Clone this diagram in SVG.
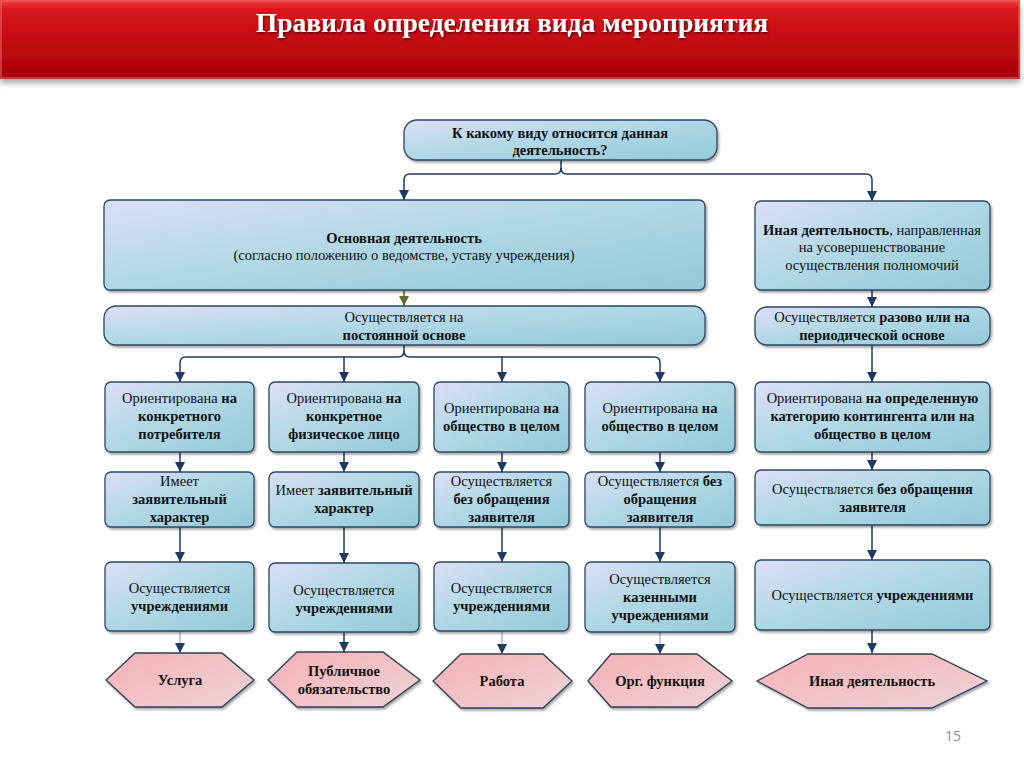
<svg xmlns="http://www.w3.org/2000/svg" width="1024" height="768" viewBox="0 0 1024 768">
<defs>
<linearGradient id="gTitle" x1="0" y1="0" x2="0" y2="1">
<stop offset="0" stop-color="#ef3a3e"/>
<stop offset="0.12" stop-color="#d9161c"/>
<stop offset="0.6" stop-color="#bf0a0f"/>
<stop offset="1" stop-color="#a80006"/>
</linearGradient>
<linearGradient id="gBox" x1="0" y1="0" x2="1" y2="1">
<stop offset="0" stop-color="#dcdff6"/>
<stop offset="0.45" stop-color="#b2d8e6"/>
<stop offset="1" stop-color="#93c9d8"/>
</linearGradient>
<linearGradient id="gHex" x1="0" y1="0" x2="1" y2="1">
<stop offset="0" stop-color="#f6b1b5"/>
<stop offset="1" stop-color="#eed3d7"/>
</linearGradient>
<filter id="sh" x="-10%" y="-10%" width="120%" height="130%">
<feDropShadow dx="1.5" dy="2" stdDeviation="1.2" flood-color="#000" flood-opacity="0.35"/>
</filter>
<filter id="tsh" x="-10%" y="-10%" width="120%" height="130%">
<feDropShadow dx="1" dy="1.5" stdDeviation="1" flood-color="#000" flood-opacity="0.6"/>
</filter>
<filter id="barsh" x="-5%" y="-10%" width="110%" height="130%">
<feDropShadow dx="0" dy="4" stdDeviation="3" flood-color="#000" flood-opacity="0.35"/>
</filter>
<marker id="ar" viewBox="0 0 10 10" refX="10" refY="5" markerWidth="10" markerHeight="10" markerUnits="userSpaceOnUse" orient="auto">
<path d="M0,0 L10,5 L0,10 z" fill="#1f3a60"/>
</marker>
<marker id="arg" viewBox="0 0 10 10" refX="10" refY="5" markerWidth="10" markerHeight="10" markerUnits="userSpaceOnUse" orient="auto">
<path d="M0,0 L10,5 L0,10 z" fill="#5b6b2e"/>
</marker>
<style>
.box{fill:url(#gBox);stroke:#2d4764;stroke-width:1.3;filter:url(#sh)}
.hex{fill:url(#gHex);stroke:#2e3e55;stroke-width:1.3;filter:url(#sh)}
.t{font-family:"Liberation Serif","Times New Roman",serif;font-size:14.5px;fill:#111;text-anchor:middle}
.b{font-weight:bold}
.c{fill:none;stroke:#1f3a60;stroke-width:1.5;marker-end:url(#ar)}
.cl{fill:none;stroke:#8797ab;stroke-width:1;marker-end:url(#ar)}
</style>
</defs>

<g id="title">
<rect x="0" y="0" width="1020" height="79" fill="url(#gTitle)" filter="url(#barsh)"/>
<rect x="1" y="1" width="1018" height="77" fill="none" stroke="#f26a6c" stroke-opacity="0.5" stroke-width="2"/>
<text x="512" y="32" font-family="Liberation Serif, Times New Roman, serif" font-size="27.5" font-weight="bold" fill="#fff" text-anchor="middle" filter="url(#tsh)">Правила определения вида мероприятия</text>
</g>

<g id="connectors">
<path class="c" d="M561,160 V168 Q561,174 555,174 H410 Q404,174 404,180 V200"/>
<path class="c" d="M561,168 Q561,174 567,174 H866 Q872,174 872,180 V201"/>
<path d="M404,290 V306" fill="none" stroke="#5b6b2e" stroke-width="1.5" marker-end="url(#arg)"/>
<path class="c" d="M872,290 V307"/>
<path class="c" d="M404,345 V351 Q404,357 398,357 H186 Q180,357 180,363 V382"/>
<path class="c" d="M344,357 Q344,357 344,363 V382"/>
<path class="c" d="M404,351 Q404,357 410,357 H654 Q660,357 660,363 V382"/>
<path class="c" d="M502,357 V382"/>
<path class="c" d="M872,345 V382"/>
<path class="c" d="M180,452 V472"/>
<path class="c" d="M344,452 V472"/>
<path class="c" d="M502,452 V472"/>
<path class="c" d="M660,452 V472"/>
<path class="c" d="M872,452 V470"/>
<path class="c" d="M180,527 V562"/>
<path class="c" d="M344,527 V563"/>
<path class="c" d="M502,527 V562"/>
<path class="c" d="M660,527 V562"/>
<path class="c" d="M872,525 V560"/>
<path class="cl" d="M180,631 V653"/>
<path class="c" d="M344,632 V652"/>
<path class="cl" d="M502,631 V654"/>
<path class="cl" d="M660,632 V654"/>
<path class="c" d="M872,630 V653"/>
</g>

<g id="n-top">
<rect class="box" x="404" y="120" width="313" height="40" rx="13"/>
<text class="t b" x="560" y="138">К какому виду относится данная</text>
<text class="t b" x="560" y="155">деятельность?</text>
</g>

<g id="n-main">
<rect class="box" x="104" y="200" width="601" height="90" rx="6"/>
<text class="t" x="404" y="243"><tspan class="b">Основная деятельность</tspan></text>
<text class="t" x="404" y="260">(согласно положению о ведомстве, уставу учреждения)</text>
</g>

<g id="n-other">
<rect class="box" x="755" y="201" width="235" height="89" rx="6"/>
<text class="t" x="872" y="235"><tspan class="b">Иная деятельность</tspan>, направленная</text>
<text class="t" x="872" y="252">на усовершенствование</text>
<text class="t" x="872" y="270">осуществления полномочий</text>
</g>

<g id="n-perm">
<rect class="box" x="104" y="306" width="601" height="39" rx="12"/>
<text class="t" x="404" y="322">Осуществляется на</text>
<text class="t b" x="404" y="340">постоянной основе</text>
</g>

<g id="n-periodic">
<rect class="box" x="755" y="307" width="235" height="38" rx="12"/>
<text class="t" x="872" y="322">Осуществляется <tspan class="b">разово или на</tspan></text>
<text class="t b" x="872" y="340">периодической основе</text>
</g>

<g id="n-r1c1">
<rect class="box" x="105" y="382" width="149" height="70" rx="6"/>
<text class="t" x="179.5" y="403">Ориентирована <tspan class="b">на</tspan></text>
<text class="t b" x="179.5" y="421">конкретного</text>
<text class="t b" x="179.5" y="439">потребителя</text>
</g>
<g id="n-r1c2">
<rect class="box" x="269" y="382" width="150" height="70" rx="6"/>
<text class="t" x="344" y="403">Ориентирована <tspan class="b">на</tspan></text>
<text class="t b" x="344" y="421">конкретное</text>
<text class="t b" x="344" y="439">физическое лицо</text>
</g>
<g id="n-r1c3">
<rect class="box" x="434" y="382" width="135" height="70" rx="6"/>
<text class="t" x="501.5" y="413">Ориентирована <tspan class="b">на</tspan></text>
<text class="t b" x="501.5" y="431">общество в целом</text>
</g>
<g id="n-r1c4">
<rect class="box" x="585" y="382" width="150" height="70" rx="6"/>
<text class="t" x="660" y="413">Ориентирована <tspan class="b">на</tspan></text>
<text class="t b" x="660" y="431">общество в целом</text>
</g>
<g id="n-r1c5">
<rect class="box" x="755" y="382" width="235" height="70" rx="6"/>
<text class="t" x="872.5" y="403">Ориентирована <tspan class="b">на определенную</tspan></text>
<text class="t b" x="872.5" y="421">категорию контингента или на</text>
<text class="t b" x="872.5" y="439">общество в целом</text>
</g>

<g id="n-r2c1">
<rect class="box" x="105" y="472" width="149" height="55" rx="6"/>
<text class="t" x="179.5" y="486">Имеет</text>
<text class="t b" x="179.5" y="504">заявительный</text>
<text class="t b" x="179.5" y="522">характер</text>
</g>
<g id="n-r2c2">
<rect class="box" x="269" y="472" width="150" height="55" rx="6"/>
<text class="t" x="344" y="495">Имеет <tspan class="b">заявительный</tspan></text>
<text class="t b" x="344" y="513">характер</text>
</g>
<g id="n-r2c3">
<rect class="box" x="434" y="472" width="135" height="55" rx="6"/>
<text class="t" x="501.5" y="486">Осуществляется</text>
<text class="t b" x="501.5" y="504">без обращения</text>
<text class="t b" x="501.5" y="522">заявителя</text>
</g>
<g id="n-r2c4">
<rect class="box" x="585" y="472" width="150" height="55" rx="6"/>
<text class="t" x="660" y="486">Осуществляется <tspan class="b">без</tspan></text>
<text class="t b" x="660" y="504">обращения</text>
<text class="t b" x="660" y="522">заявителя</text>
</g>
<g id="n-r2c5">
<rect class="box" x="755" y="470" width="235" height="55" rx="6"/>
<text class="t" x="872.5" y="494">Осуществляется <tspan class="b">без обращения</tspan></text>
<text class="t b" x="872.5" y="512">заявителя</text>
</g>

<g id="n-r3c1">
<rect class="box" x="105" y="562" width="149" height="69" rx="6"/>
<text class="t" x="179.5" y="593">Осуществляется</text>
<text class="t b" x="179.5" y="611">учреждениями</text>
</g>
<g id="n-r3c2">
<rect class="box" x="269" y="563" width="150" height="69" rx="6"/>
<text class="t" x="344" y="595">Осуществляется</text>
<text class="t b" x="344" y="613">учреждениями</text>
</g>
<g id="n-r3c3">
<rect class="box" x="434" y="562" width="135" height="69" rx="6"/>
<text class="t" x="501.5" y="593">Осуществляется</text>
<text class="t b" x="501.5" y="611">учреждениями</text>
</g>
<g id="n-r3c4">
<rect class="box" x="585" y="562" width="150" height="70" rx="6"/>
<text class="t" x="660" y="584">Осуществляется</text>
<text class="t b" x="660" y="602">казенными</text>
<text class="t b" x="660" y="620">учреждениями</text>
</g>
<g id="n-r3c5">
<rect class="box" x="755" y="560" width="235" height="70" rx="6"/>
<text class="t" x="872.5" y="600">Осуществляется <tspan class="b">учреждениями</tspan></text>
</g>

<g id="h-service">
<polygon class="hex" points="106,680 135,653 222,653 254,680 222,707 135,707"/>
<text class="t b" x="180" y="685">Услуга</text>
</g>
<g id="h-public">
<polygon class="hex" points="268,680 297,652 383,652 420,680 383,707 297,707"/>
<text class="t b" x="344" y="676">Публичное</text>
<text class="t b" x="344" y="694">обязательство</text>
</g>
<g id="h-work">
<polygon class="hex" points="433,681 461,654 543,654 572,681 543,708 461,708"/>
<text class="t b" x="502" y="686">Работа</text>
</g>
<g id="h-org">
<polygon class="hex" points="588,681 611,654 697,654 732,681 697,707 611,707"/>
<text class="t b" x="660" y="686">Орг. функция</text>
</g>
<g id="h-other">
<polygon class="hex" points="757,681 808,654 932,654 987,681 932,708 808,708"/>
<text class="t b" x="872" y="686">Иная деятельность</text>
</g>

<text x="953" y="741" font-family="Open Sans, Liberation Sans, sans-serif" font-size="14" fill="#8c8c8c" text-anchor="middle">15</text>
</svg>
